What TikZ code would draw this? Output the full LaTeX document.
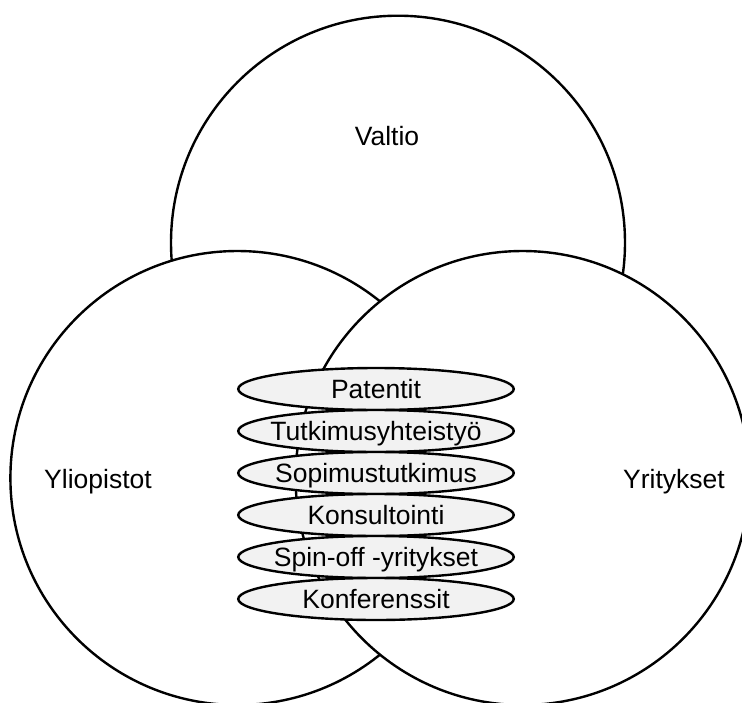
\documentclass[tikz,border=0pt]{standalone}
\usepackage{fontspec}
\setmainfont{Liberation Sans}
\usetikzlibrary{shapes.geometric}
\definecolor{tagfill}{HTML}{F2F2F2}
\begin{document}
\begin{tikzpicture}[x=1pt,y=-1pt,
  ring/.style={draw=black, line width=2.4pt, fill=white},
  tag/.style={ellipse, draw=black, line width=2.4pt, fill=tagfill,
    minimum width=275.5pt, minimum height=42pt, inner sep=0pt},
  tagtext/.style={inner sep=0pt, text height=18.6pt, text depth=0pt,
    font=\fontsize{26.5}{30}\selectfont},
  caption/.style={anchor=base, font=\fontsize{26.5}{30}\selectfont}]
\useasboundingbox (0,0) rectangle (742,702);
\clip (0,0) rectangle (742,702);
% the three actors: state on top, universities left, companies right
\draw[ring] (398,242.7) circle[radius=227pt];
\draw[ring] (237.4,478) circle[radius=227pt];
\draw[ring] (522.6,478) circle[radius=227pt];
\node[caption] (valtio) at (387,145.5) {Valtio};
\node[caption] (yliopistot) at (98,488) {Yliopistot};
\node[caption] (yritykset) at (674,488) {Yritykset};
% forms of cooperation, stacked in the overlap
\node[tag, label={[tagtext]center:Patentit}] (patentit) at (376,389) {};
\node[tag, label={[tagtext]center:Tutkimusyhteistyö}] (tutkimus) at (376,431) {};
\node[tag, label={[tagtext]center:Sopimustutkimus}] (sopimus) at (376,473) {};
\node[tag, label={[tagtext]center:Konsultointi}] (konsultointi) at (376,515) {};
\node[tag, label={[tagtext]center:Spin-off -yritykset}] (spinoff) at (376,557) {};
\node[tag, label={[tagtext]center:Konferenssit}] (konferenssit) at (376,599) {};
\end{tikzpicture}
\end{document}
